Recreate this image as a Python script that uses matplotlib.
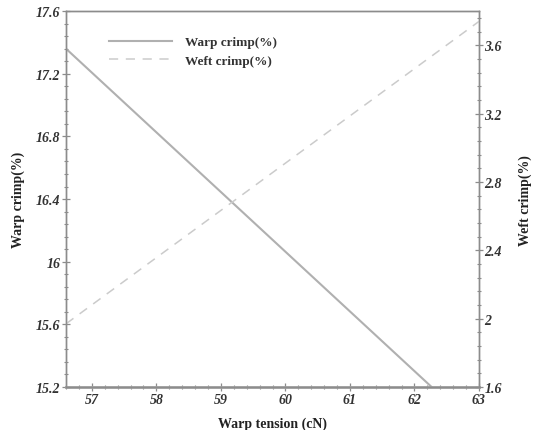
import numpy as np
import matplotlib
matplotlib.use("Agg")
import matplotlib.pyplot as plt
from matplotlib.ticker import MultipleLocator

# data
tension = [56.6, 63.0]
warp_crimp = [17.36, 14.92]
weft_crimp = [1.97, 3.74]

x_ticks = [57, 58, 59, 60, 61, 62, 63]
warp_ticks = [15.2, 15.6, 16, 16.4, 16.8, 17.2, 17.6]
weft_ticks = [1.6, 2, 2.4, 2.8, 3.2, 3.6]

plt.rcParams['font.family'] = ['Liberation Serif', 'DejaVu Serif']
grey = '#8c8c8c'

fig = plt.figure(figsize=(5.37, 4.31), dpi=100)
ax = fig.add_axes([0.123, 0.0998, 0.769, 0.872])
ax2 = ax.twinx()

l1, = ax.plot(tension, warp_crimp, color='#b0b0b0', linewidth=1.5, label='Warp crimp(%)')
l2, = ax2.plot(tension, weft_crimp, color='#cbcbcb', linewidth=1.1, linestyle=(0, (6, 5)),
               label='Weft crimp(%)')

ax.set_xlim(56.6, 63)
ax.set_ylim(15.2, 17.6)
ax2.set_ylim(1.6, 3.8)

ax.set_xticks(x_ticks)
ax.set_yticks(warp_ticks)
ax2.set_yticks(weft_ticks)
ax.set_yticklabels([f'{v:g}' for v in warp_ticks])
ax2.set_yticklabels([f'{v:g}' for v in weft_ticks])
ax.xaxis.set_minor_locator(MultipleLocator(0.2))
ax.yaxis.set_minor_locator(MultipleLocator(0.08))
ax2.yaxis.set_minor_locator(MultipleLocator(0.08))

for a in (ax, ax2):
    for s in a.spines.values():
        s.set_color(grey)
        s.set_linewidth(1.0)
    a.tick_params(which='major', direction='inout', length=6, width=0.9, color=grey,
                  labelsize=10, labelcolor='#333333', pad=1)
    a.tick_params(which='minor', direction='inout', length=3, width=0.8, color=grey)
    for lab in a.get_xticklabels() + a.get_yticklabels():
        lab.set_fontweight('bold')
        lab.set_fontstyle('italic')
ax.spines['bottom'].set_linewidth(2.0)
ax.spines['bottom'].set_color('#a0a0a0')

ax.set_xlabel('Warp tension (cN)', fontsize=10, fontweight='bold', color='#222222', labelpad=8)
ax.set_ylabel('Warp crimp(%)', fontsize=10, fontweight='bold', color='#222222', labelpad=8)
ax2.set_ylabel('Weft crimp(%)', fontsize=10, fontweight='bold', color='#222222', labelpad=12,
               rotation=90)

leg = ax.legend(handles=[l1, l2], loc='upper left', bbox_to_anchor=(0.075, 0.965), frameon=False,
                fontsize=9.5, handlelength=4.8, handletextpad=1.0, labelspacing=0.45)
for t in leg.get_texts():
    t.set_fontweight('bold')
    t.set_color('#333333')

fig.savefig('out.png', dpi=100)
